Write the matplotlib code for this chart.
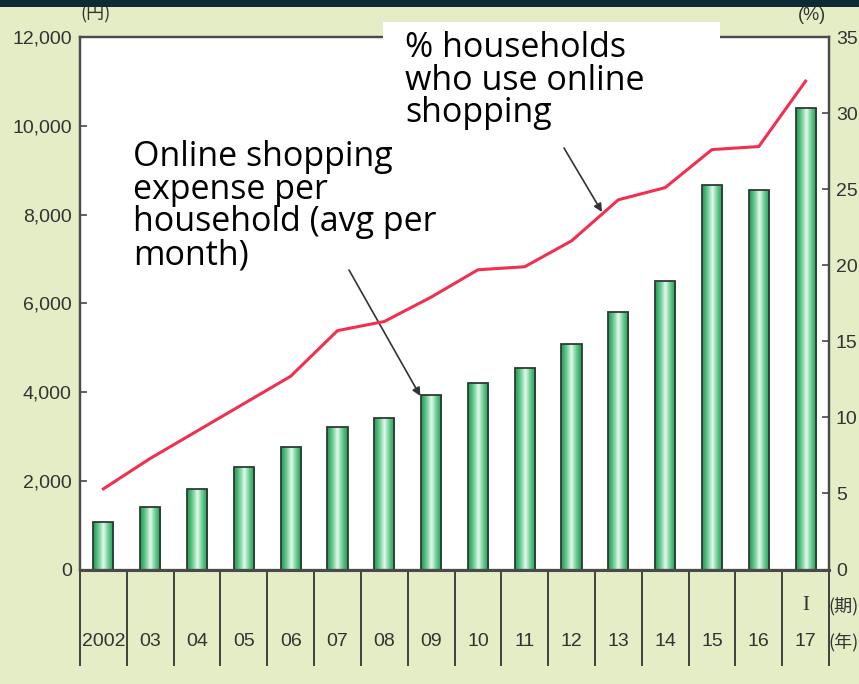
import matplotlib.pyplot as plt
import numpy as np
from matplotlib.colors import LinearSegmentedColormap
from matplotlib.patches import Rectangle

# data
years = ["2002", "03", "04", "05", "06", "07", "08", "09",
         "10", "11", "12", "13", "14", "15", "16", "17"]
expense_yen = [1080, 1400, 1820, 2300, 2770, 3210, 3420, 3940,
               4210, 4550, 5080, 5800, 6500, 8660, 8560, 10410]
usage_pct = [5.3, 7.3, 9.1, 10.9, 12.7, 15.7, 16.3, 17.9,
             19.7, 19.9, 21.6, 24.3, 25.1, 27.6, 27.8, 32.1]
left_ticks = [0, 2000, 4000, 6000, 8000, 10000, 12000]
right_ticks = [0, 5, 10, 15, 20, 25, 30, 35]

BG = "#e4edc6"
INK = "#333333"
NUM_FONT = ["Liberation Sans", "Noto Sans CJK JP", "DejaVu Sans"]
CJK_FONT = ["Noto Sans CJK JP", "DejaVu Sans"]
NOTE_FONT = ["Open Sans", "DejaVu Sans"]
NUM_SIZE = 14

W, H = 859, 684


def fx(px):
    return px / W


def fy(py):
    return 1 - py / H


fig = plt.figure(figsize=(W / 100, H / 100), dpi=100, facecolor=BG)
ax = fig.add_axes([fx(80), fy(569.5), fx(829) - fx(80), fy(37) - fy(569.5)])
ax.set_facecolor("white")

x = np.arange(len(years))
bw = 0.43

# gradient bars: green edges, pale stripe down the middle
cmap = LinearSegmentedColormap.from_list(
    "bar", ["#2a9458", "#48b877", "#8ad9a9", "#ecfaf1",
            "#8ad9a9", "#48b877", "#2a9458"])
grad = np.linspace(0, 1, 64)[None, :]
for xi, v in zip(x, expense_yen):
    ax.imshow(grad, cmap=cmap, extent=(xi - bw / 2, xi + bw / 2, 0, v),
              aspect="auto", interpolation="bicubic", zorder=2)
ax.bar(x, expense_yen, bw, facecolor="none", edgecolor="#2d3b33",
       linewidth=1.3, zorder=3)

ax.set_xlim(-0.5, len(years) - 0.5)
ax.set_ylim(0, 12000)
ax.set_yticks(left_ticks, [f"{t:,}" for t in left_ticks])
ax.tick_params(axis="y", direction="in", length=5, width=1.3, color="#555",
               labelsize=NUM_SIZE, labelcolor=INK, pad=6)
for lab in ax.get_yticklabels():
    lab.set_family(NUM_FONT)

ax.set_xticks(x, years)
ax.tick_params(axis="x", which="major", length=0, pad=46,
               labelsize=NUM_SIZE, labelcolor=INK)
for lab in ax.get_xticklabels():
    lab.set_family(NUM_FONT)
ax.set_xticks(np.arange(-0.5, len(years), 1), minor=True)
ax.tick_params(axis="x", which="minor", direction="out", length=69,
               width=1.3, color="#333")

for s in ax.spines.values():
    s.set_color("#4a4a4a")
    s.set_linewidth(1.6)
ax.spines["bottom"].set_linewidth(2.2)

ax2 = ax.twinx()
ax2.plot(x, usage_pct, color="#f0304e", linewidth=2.2, zorder=4)
ax2.set_ylim(0, 35)
ax2.set_yticks(right_ticks)
ax2.tick_params(axis="y", direction="in", length=5, width=1.3, color="#555",
                labelsize=NUM_SIZE, labelcolor=INK, pad=5)
for lab in ax2.get_yticklabels():
    lab.set_family(NUM_FONT)
for s in ax2.spines.values():
    s.set_color("#4a4a4a")
    s.set_linewidth(1.6)

# period marker under the last year, and axis units
ax.text(15, (569.5 - 605) / 532.5, "I", transform=ax.get_xaxis_transform(),
        ha="center", va="center", fontsize=15, color=INK,
        family=["Liberation Serif", "DejaVu Serif"])
fig.text(fx(844), fy(606), "(期)", ha="center", va="center", fontsize=13,
         color=INK, family=CJK_FONT)
fig.text(fx(844), fy(642), "(年)", ha="center", va="center", fontsize=13,
         color=INK, family=CJK_FONT)
fig.text(fx(95), fy(14), "(円)", ha="center", va="center", fontsize=13,
         color=INK, family=CJK_FONT, zorder=5)
fig.text(fx(812), fy(16), "(%)", ha="center", va="center", fontsize=13,
         color=INK, family=NUM_FONT, zorder=5)

# dark strip along the top edge
fig.patches.append(Rectangle((0, fy(7)), 1, 1 - fy(7), transform=fig.transFigure,
                             facecolor="#102a35", edgecolor="none", zorder=10))

# white call-out box over the top of the plot
fig.patches.append(Rectangle((fx(383), fy(140)), fx(720) - fx(383), fy(22) - fy(140),
                             transform=fig.transFigure, facecolor="white",
                             edgecolor="none", zorder=6))
fig.text(fx(405), fy(31), "% households\nwho use online\nshopping",
         ha="left", va="top", fontsize=24.5, linespacing=0.95,
         family=NOTE_FONT, color="black", zorder=7)
fig.text(fx(133), fy(140), "Online shopping\nexpense per\nhousehold (avg per\nmonth)",
         ha="left", va="top", fontsize=24.5, linespacing=0.95,
         family=NOTE_FONT, color="black", zorder=7)

arrow = dict(arrowstyle="-|>", color="#333333", lw=1.2, mutation_scale=12,
             shrinkA=0, shrinkB=0)
ax.annotate("", xy=(6.77, 3910), xytext=(349, H - 270),
            textcoords="figure pixels", arrowprops=arrow, zorder=5)
ax2.annotate("", xy=(10.65, 23.5), xytext=(564, H - 148),
             textcoords="figure pixels", arrowprops=arrow, zorder=5)

fig.savefig("out.png", dpi=100, facecolor=BG)
